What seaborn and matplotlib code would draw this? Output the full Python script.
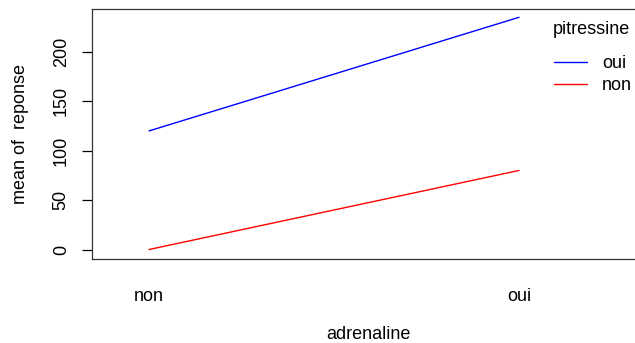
import seaborn as sns
import matplotlib.pyplot as plt
import pandas as pd

# interaction means
adrenaline = ["non", "oui", "non", "oui"]
pitressine = ["oui", "oui", "non", "non"]
reponse = [120, 235, 0, 80]

data = pd.DataFrame({"adrenaline": adrenaline, "pitressine": pitressine, "reponse": reponse})

sns.set_style("white")
plt.rcParams["font.family"] = ["Liberation Sans", "DejaVu Sans"]
plt.rcParams["text.color"] = "black"
plt.rcParams["axes.labelcolor"] = "black"
fs = 13

W, H = 635, 343
fig = plt.figure(figsize=(W / 100, H / 100), dpi=100)
ax = fig.add_axes([92 / W, 1 - 259 / H, (645 - 92) / W, 250 / H])

sns.lineplot(data=data, x="adrenaline", y="reponse", hue="pitressine",
             hue_order=["oui", "non"], palette={"oui": "blue", "non": "red"},
             lw=1, ax=ax, legend=False)

ax.set_xlim(-57 / 370, (645 - 149) / 370)
ax.set_ylim(-9.6, 243.4)
ax.set_yticks([0, 50, 100, 150, 200])
ax.set_xticks([0, 1])
ax.set_xticklabels(["non", "oui"])
ax.tick_params(axis="x", length=0, pad=21, labelsize=fs, colors="black")
ax.tick_params(axis="y", length=7, width=0.9, direction="out", left=True,
               pad=9, labelsize=fs, colors="black")
for t in ax.get_yticklabels():
    t.set_rotation(90)
    t.set_va("center")
ax.set_xlabel("adrenaline", fontsize=fs, labelpad=15)
ax.set_ylabel("mean of  reponse", fontsize=fs, labelpad=17)
for s in ax.spines.values():
    s.set_color("#333333")
    s.set_linewidth(0.9)

# legend in the style of interaction.plot
fig.text(553 / W, 1 - 29 / H, "pitressine", fontsize=fs, va="center", ha="left")
handles = [plt.Line2D([], [], color="blue", lw=1), plt.Line2D([], [], color="red", lw=1)]
fig.legend(handles, ["oui", "non"], frameon=False,
           loc="upper left", bbox_to_anchor=(545 / W, 1 - 46 / H),
           fontsize=fs, handlelength=1.83, handletextpad=0.83,
           labelspacing=0.28, borderpad=0)

fig.savefig("out.png", dpi=100)
